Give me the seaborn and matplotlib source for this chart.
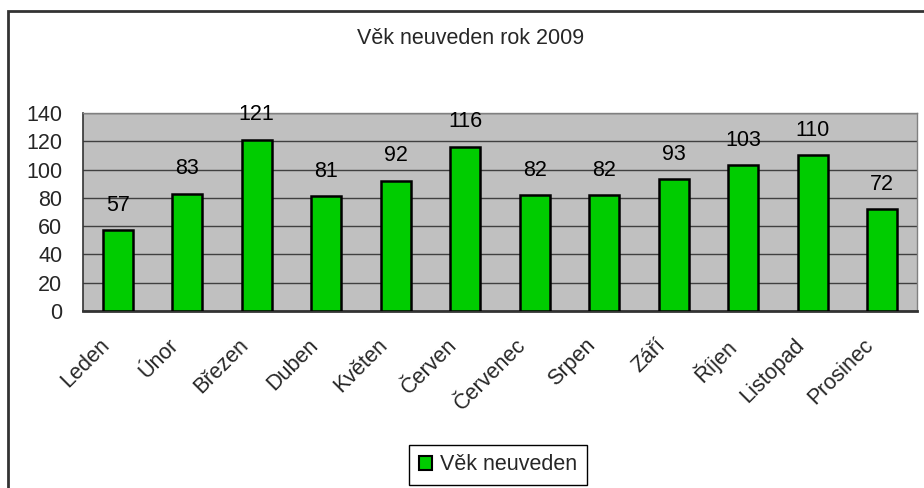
import matplotlib
matplotlib.use("Agg")
import matplotlib.pyplot as plt
import matplotlib.transforms as mtransforms
import seaborn as sns
from matplotlib.patches import Patch, Rectangle

months = ["Leden", "Únor", "Březen", "Duben", "Květen", "Červen",
          "Červenec", "Srpen", "Září", "Říjen", "Listopad", "Prosinec"]
counts = [57, 83, 121, 81, 92, 116, 82, 82, 93, 103, 110, 72]
series_name = "Věk neuveden"
title = "Věk neuveden rok 2009"
y_ticks = [0, 20, 40, 60, 80, 100, 120, 140]

sns.set_style("white")
plt.rcParams["font.family"] = ["Liberation Sans", "DejaVu Sans"]

bar_color = "#00CC00"
fs = 15.5

fig = plt.figure(figsize=(9.24, 4.88), dpi=100)
ax = fig.add_axes([83 / 924, 1 - 311 / 488, (917 - 83) / 924, (311 - 113) / 488])
ax.set_facecolor("#C0C0C0")

sns.barplot(x=months, y=counts, color=bar_color, saturation=1, width=0.435,
            edgecolor="black", linewidth=1.8, ax=ax, zorder=3)

ax.set_ylim(0, 140)
ax.set_xlim(-0.5, len(months) - 0.5)
ax.set_yticks(y_ticks)
ax.yaxis.grid(True, color="#404040", linewidth=1.0, zorder=1)
ax.set_axisbelow(True)

for i, v in enumerate(counts):
    ax.annotate(str(v), (i, v), xytext=(0, 14), textcoords="offset points",
                ha="center", va="baseline", fontsize=fs, color="black")

# category boundary ticks on x, labels at centers
ax.set_xticks([i - 0.5 for i in range(len(months) + 1)], minor=False)
ax.set_xticklabels([""] * (len(months) + 1))
ax.set_xticks(range(len(months)), minor=True)
ax.tick_params(axis="x", which="major", direction="out", length=5, width=1, color="#333333")
ax.tick_params(axis="x", which="minor", length=0, pad=17)
ax.tick_params(axis="y", direction="out", length=5, width=1, color="#333333",
               labelsize=fs, pad=10)
ax.set_xticklabels(months, minor=True, rotation=45, ha="right",
                   rotation_mode="anchor", fontsize=fs)
shift = mtransforms.ScaledTranslation(-19 / 100, 0, fig.dpi_scale_trans)
for lbl in ax.get_xticklabels(minor=True):
    lbl.set_transform(lbl.get_transform() + shift)

for side in ["top", "right"]:
    ax.spines[side].set_color("#808080")
    ax.spines[side].set_linewidth(1)
ax.spines["left"].set_color("#333333")
ax.spines["left"].set_linewidth(1.2)
ax.spines["bottom"].set_color("#333333")
ax.spines["bottom"].set_linewidth(2)
ax.set_xlabel("")
ax.set_ylabel("")

fig.text(471 / 924, 1 - 39 / 488, title, ha="center", va="center", fontsize=fs)

handle = Patch(facecolor=bar_color, edgecolor="black", linewidth=1.5)
fig.legend(handles=[handle], labels=[series_name], loc="center",
           bbox_to_anchor=(498 / 924, 1 - 465 / 488), fontsize=fs,
           frameon=True, fancybox=False, edgecolor="black", framealpha=1,
           handlelength=0.6, handleheight=0.6, handletextpad=0.4,
           borderpad=0.45, borderaxespad=0)

# outer chart border (runs off the right and bottom edges)
fig.patches.append(Rectangle((8 / 924, -0.1), 1.2, 1 - 11 / 488 + 0.1,
                             transform=fig.transFigure, fill=False,
                             edgecolor="#333333", linewidth=2))

fig.savefig("out.png", dpi=100)
